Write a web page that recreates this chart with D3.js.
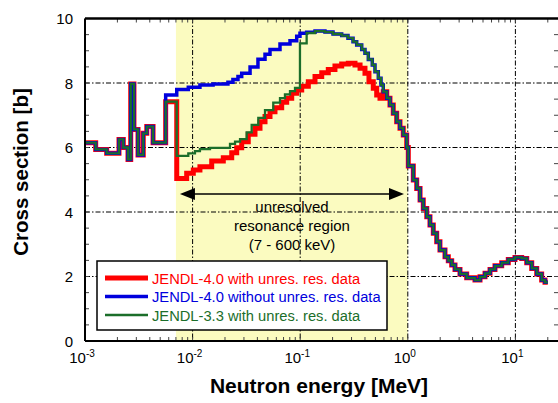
<!DOCTYPE html>
<html>
<head>
<meta charset="utf-8">
<script src="https://cdn.jsdelivr.net/npm/d3@7/dist/d3.min.js"></script>
<style>
body { margin: 0; background: #fff; }
svg { display: block; }
</style>
</head>
<body>
<script>
// energies in MeV, cross sections in barns (step starts)
var lowE  = [1.0e-3, 1.257e-3, 1.59e-3, 2.07e-3, 2.27e-3, 2.51e-3, 2.66e-3, 2.85e-3, 3.11e-3, 3.48e-3, 3.75e-3, 4.29e-3];
var lowXS = [6.15, 5.94, 5.82, 6.25, 6.0, 5.63, 7.97, 6.56, 5.77, 6.44, 6.65, 6.15];

var redE  = [5.62e-3, 7.12e-3, 8.81e-3, 1.015e-2, 1.17e-2, 1.505e-2, 1.929e-2, 2.31e-2, 2.57e-2, 2.86e-2, 3.29e-2, 3.80e-2,
             4.23e-2, 4.71e-2, 5.24e-2, 5.83e-2, 6.73e-2, 7.49e-2, 8.34e-2, 9.28e-2, 0.1033, 0.119, 0.1373, 0.1585,
             0.1824, 0.2104, 0.243, 0.28, 0.323, 0.36, 0.40, 0.4356, 0.4777, 0.514, 0.5515];
var redXS = [7.42, 5.04, 5.2, 5.3, 5.4, 5.58, 5.68, 5.84, 5.99, 6.18, 6.41, 6.6,
             6.8, 6.96, 7.11, 7.23, 7.4, 7.53, 7.68, 7.78, 7.9, 8.04, 8.2, 8.32,
             8.42, 8.53, 8.59, 8.61, 8.56, 8.46, 8.3, 8.04, 7.84, 7.63, 7.53];

var blueE  = [5.62e-3, 7.12e-3, 9.12e-3, 1.17e-2, 1.55e-2, 2.13e-2, 2.37e-2, 2.64e-2, 2.86e-2, 3.42e-2, 4.05e-2, 4.71e-2,
              5.24e-2, 6.49e-2, 8.04e-2, 9.28e-2, 9.95e-2, 0.1148, 0.1373, 0.1698, 0.2018, 0.243, 0.278, 0.3097,
              0.335, 0.373, 0.40, 0.4295, 0.4677, 0.4955, 0.532, 0.5636];
var blueXS = [7.63, 7.8, 7.87, 7.94, 7.97, 8.02, 8.11, 8.2, 8.3, 8.5, 8.74, 8.89,
              9.04, 9.21, 9.31, 9.45, 9.54, 9.57, 9.61, 9.58, 9.52, 9.47, 9.39, 9.28,
              9.18, 9.04, 8.92, 8.73, 8.56, 8.35, 8.15, 7.94];

var greenE  = [5.62e-3, 7.12e-3, 9.12e-3, 1.052e-2, 1.17e-2, 1.451e-2, 2.227e-2, 2.48e-2, 2.76e-2, 3.18e-2, 3.54e-2, 4.08e-2,
               4.71e-2, 5.62e-2, 6.49e-2, 7.22e-2, 8.04e-2, 8.95e-2, 9.95e-2, 0.1148, 0.1373, 0.1698, 0.2018, 0.243,
               0.278, 0.3097, 0.335, 0.373, 0.40, 0.4295, 0.4677, 0.4955, 0.532, 0.5636];
var greenXS = [7.42, 5.74, 5.82, 5.89, 5.95, 5.99, 6.11, 6.18, 6.26, 6.47, 6.7, 6.92,
               7.16, 7.39, 7.53, 7.65, 7.75, 7.85, 9.23, 9.55, 9.61, 9.58, 9.52, 9.47,
               9.39, 9.28, 9.18, 9.04, 8.92, 8.73, 8.56, 8.35, 8.15, 7.94];

var highE  = [0.5916, 0.637, 0.683, 0.733, 0.788, 0.846, 0.908, 0.977, 1.011, 1.125, 1.21, 1.30, 1.393, 1.50, 1.607,
              1.726, 1.856, 1.99, 2.217, 2.379, 2.558, 2.746, 3.055, 3.525, 4.21, 4.69, 5.22, 5.81, 6.46, 7.46,
              8.59, 9.91, 11.44, 12.74, 14.18, 15.78, 17.54, 18.84, 20.0];
var highXS = [7.73, 7.53, 7.32, 7.06, 6.8, 6.6, 6.39, 6.0, 5.43, 4.99, 4.73, 4.37, 4.11, 3.85, 3.6,
              3.34, 3.08, 2.82, 2.61, 2.49, 2.36, 2.22, 2.08, 1.96, 1.89, 1.99, 2.1, 2.22, 2.33, 2.43,
              2.53, 2.59, 2.56, 2.43, 2.25, 2.08, 1.89, 1.82, 1.82];

var seriesNames  = ["JENDL-4.0 with unres. res. data", "JENDL-4.0 without unres. res. data", "JENDL-3.3 with unres. res. data"];
var seriesColors = ["#ff0000", "#0000dd", "#1b6e2a"];
var seriesWidths = [5, 3.5, 2.3];

var yTicks = [0, 2, 4, 6, 8, 10];
var xDecades = [-3, -2, -1, 0, 1];
var regionE = [0.007, 1.0];
var regionText = ["unresolved", "resonance region", "(7 - 600 keV)"];

var W = 558, H = 403;
var svg = d3.select("body").append("svg").attr("width", W).attr("height", H);

var x = d3.scaleLog().domain([1e-3, 25]).range([85, 85 + 107.6 * Math.log10(25000)]);
var y = d3.scaleLinear().domain([0, 10]).range([341, 18.5]);
var x0 = x.range()[0], x1 = x.range()[1], y0 = y.range()[0], y1 = y.range()[1];

svg.append("defs").append("clipPath").attr("id", "plotclip")
	.append("rect").attr("x", x0).attr("y", y1).attr("width", x1 - x0).attr("height", y0 - y1);

// yellow region
svg.append("rect")
	.attr("x", x(regionE[0])).attr("y", y1)
	.attr("width", x(regionE[1]) - x(regionE[0])).attr("height", y0 - y1)
	.attr("fill", "#fbfbc0");

// grid
var grid = svg.append("g").attr("stroke", "#000").attr("stroke-width", 1).attr("stroke-dasharray", "5,2,1.5,2");
xDecades.slice(1).forEach(function(d) {
	grid.append("line").attr("x1", x(Math.pow(10, d))).attr("x2", x(Math.pow(10, d)))
		.attr("y1", y1).attr("y2", y0);
});
yTicks.slice(1, -1).forEach(function(d) {
	grid.append("line").attr("x1", x0).attr("x2", x1).attr("y1", y(d)).attr("y2", y(d));
});

// minor ticks
var minorX = [];
for (var dd = -3; dd <= 1; dd++) {
	for (var m = 1; m <= 9; m++) {
		var v = m * Math.pow(10, dd);
		if (v <= 25) minorX.push(v);
	}
}
var ticks = svg.append("g").attr("stroke", "#444").attr("stroke-width", 1);
minorX.forEach(function(v) {
	ticks.append("line").attr("x1", x(v)).attr("x2", x(v)).attr("y1", y0).attr("y2", y0 - 4);
	ticks.append("line").attr("x1", x(v)).attr("x2", x(v)).attr("y1", y1).attr("y2", y1 + 4);
});
for (var t = 0; t <= 10; t += 0.5) {
	ticks.append("line").attr("x1", x0).attr("x2", x0 + 4).attr("y1", y(t)).attr("y2", y(t));
	ticks.append("line").attr("x1", W - 4).attr("x2", W).attr("y1", y(t)).attr("y2", y(t));
}

// arrow
var arrowY = 194;
var ax1 = x(regionE[0]) + 4, ax2 = 404;
svg.append("line").attr("x1", ax1 + 10).attr("x2", ax2 - 10).attr("y1", arrowY).attr("y2", arrowY)
	.attr("stroke", "#000").attr("stroke-width", 1.5);
svg.append("path").attr("d", "M" + ax1 + "," + arrowY + "l15,-6l0,12z").attr("fill", "#000");
svg.append("path").attr("d", "M" + ax2 + "," + arrowY + "l-15,-6l0,12z").attr("fill", "#000");

svg.append("g").selectAll("text").data(regionText).enter().append("text")
	.attr("x", 292).attr("y", function(d, i) { return 212 + i * 19; })
	.attr("text-anchor", "middle")
	.style("font-family", "'Liberation Sans Narrow', 'Arial Narrow', sans-serif")
	.style("font-size", "15px")
	.text(function(d) { return d; });

// curves
function build(midE, midXS) {
	var pts = [];
	lowE.forEach(function(e, i) { pts.push([e, lowXS[i]]); });
	midE.forEach(function(e, i) { pts.push([e, midXS[i]]); });
	highE.forEach(function(e, i) { pts.push([e, highXS[i]]); });
	return pts;
}
var curves = [build(redE, redXS), build(blueE, blueXS), build(greenE, greenXS)];
var line = d3.line().x(function(d) { return x(d[0]); }).y(function(d) { return y(d[1]); }).curve(d3.curveStepAfter);

svg.append("g").attr("clip-path", "url(#plotclip)")
	.selectAll("path").data(curves).enter().append("path")
	.attr("d", line)
	.attr("fill", "none")
	.attr("stroke", function(d, i) { return seriesColors[i]; })
	.attr("stroke-width", function(d, i) { return seriesWidths[i]; })
	.attr("stroke-linejoin", "miter");

// frame
svg.append("line").attr("x1", x0).attr("x2", W).attr("y1", y1).attr("y2", y1).attr("stroke", "#000").attr("stroke-width", 2.5);
svg.append("line").attr("x1", x0).attr("x2", W).attr("y1", y0).attr("y2", y0).attr("stroke", "#000").attr("stroke-width", 2);
svg.append("line").attr("x1", x0).attr("x2", x0).attr("y1", y1).attr("y2", y0).attr("stroke", "#000").attr("stroke-width", 2);

// legend
var lg = svg.append("g");
lg.append("rect").attr("x", 97).attr("y", 261).attr("width", 290).attr("height", 69)
	.attr("fill", "#fff").attr("stroke", "#000").attr("stroke-width", 1.5);
seriesNames.forEach(function(n, i) {
	var ly = 278 + i * 18.5;
	lg.append("line").attr("x1", 105).attr("x2", 148).attr("y1", ly).attr("y2", ly)
		.attr("stroke", seriesColors[i]).attr("stroke-width", seriesWidths[i]);
	lg.append("text").attr("x", 152).attr("y", ly + 5.5)
		.attr("fill", seriesColors[i])
		.style("font-family", "'Liberation Sans Narrow', 'Arial Narrow', sans-serif")
		.style("font-size", "14.7px")
		.text(n);
});

// tick labels
var labFont = "'Liberation Sans Narrow', 'Arial Narrow', sans-serif";
svg.append("g").selectAll("text").data(yTicks).enter().append("text")
	.attr("x", 73).attr("y", function(d) { return y(d) + 5.5; })
	.attr("text-anchor", "end")
	.style("font-family", labFont).style("font-size", "15px")
	.text(function(d) { return d; });

var xl = svg.append("g").selectAll("text").data(xDecades).enter().append("text")
	.attr("x", function(d) { return x(Math.pow(10, d)) - 3; }).attr("y", 363)
	.attr("text-anchor", "middle")
	.style("font-family", labFont).style("font-size", "15px");
xl.append("tspan").text("10");
xl.append("tspan").attr("dy", -6).style("font-size", "10px").text(function(d) { return d; });

// axis titles
svg.append("text").attr("x", 319).attr("y", 393).attr("text-anchor", "middle")
	.style("font-family", "'Liberation Sans', Arial, sans-serif").style("font-weight", "bold").style("font-size", "21px")
	.text("Neutron energy [MeV]");
svg.append("text").attr("transform", "translate(28,172) rotate(-90)").attr("text-anchor", "middle")
	.style("font-family", "'Liberation Sans', Arial, sans-serif").style("font-weight", "bold").style("font-size", "20.5px")
	.text("Cross section [b]");
</script>
</body>
</html>
